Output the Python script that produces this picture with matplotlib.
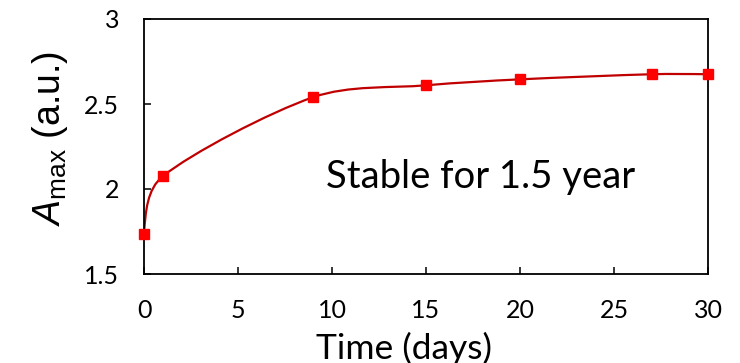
import matplotlib
matplotlib.use("Agg")
import matplotlib.pyplot as plt
from matplotlib.path import Path
from matplotlib.patches import PathPatch
import numpy as np

# ---- data ----
days = [0, 1, 9, 15, 20, 27, 30]
amax = [1.735, 2.075, 2.54, 2.61, 2.645, 2.675, 2.675]
x_ticks = [0, 5, 10, 15, 20, 25, 30]
y_ticks = [1.5, 2, 2.5, 3]
y_tick_labels = ["1.5", "2", "2.5", "3"]
annotation = "Stable for 1.5 year"
x_label = "Time (days)"

plt.rcParams["mathtext.fontset"] = "custom"
plt.rcParams["mathtext.rm"] = "Liberation Sans"
plt.rcParams["mathtext.it"] = "Liberation Sans:italic"
plt.rcParams["font.family"] = ["Lato", "DejaVu Sans"]

fig = plt.figure(figsize=(7.40, 3.63), dpi=100)
ax = fig.add_axes([144 / 740, 1 - 274 / 363, 564 / 740, 255 / 363])
ax.set_xlim(0, 30)
ax.set_ylim(1.5, 3)

line_color = "#C00000"
marker_color = "#FF0000"


def smooth_path(ax, xs, ys):
    """Excel-like smoothed line: cubic Bezier through points, computed in display space."""
    pts = ax.transData.transform(np.column_stack([xs, ys]))
    n = len(pts)
    verts = [pts[0]]
    codes = [Path.MOVETO]
    for i in range(n - 1):
        p0 = pts[i]
        p1 = pts[i + 1]
        seg = np.linalg.norm(p1 - p0)
        prev = pts[i - 1] if i > 0 else None
        nxt = pts[i + 2] if i + 2 < n else None
        if prev is not None:
            t = (p1 - prev) / 6.0
            L = np.linalg.norm(t)
            if L > seg / 3:
                t = t / L * seg / 3
            c1 = p0 + t
        else:
            c1 = None
        if nxt is not None:
            t = (nxt - p0) / 6.0
            L = np.linalg.norm(t)
            if L > seg / 3:
                t = t / L * seg / 3
            c2 = p1 - t
        else:
            c2 = None
        if c1 is None:
            c1 = p0 + (c2 - p0) / 2 if c2 is not None else p0 + (p1 - p0) / 3
        if c2 is None:
            c2 = p1 + (c1 - p1) / 2
        verts += [c1, c2, p1]
        codes += [Path.CURVE4] * 3
    inv = ax.transData.inverted()
    return Path(inv.transform(np.array(verts)), codes)


path = smooth_path(ax, days, amax)
ax.add_patch(PathPatch(path, facecolor="none", edgecolor=line_color, lw=1.6, zorder=2))
ax.plot(days, amax, linestyle="none", marker="s", markersize=7.5,
        color=marker_color, zorder=3, clip_on=False)

ax.set_xticks(x_ticks)
ax.set_yticks(y_ticks)
ax.set_yticklabels(y_tick_labels)
ax.tick_params(axis="both", direction="in", length=5, width=1.1, labelsize=18,
               colors="black")
ax.tick_params(axis="x", pad=18)
ax.tick_params(axis="y", pad=18)
for s in ax.spines.values():
    s.set_linewidth(1.3)
    s.set_color("#000000")

ax.set_xlabel(x_label, fontsize=25.5)
ax.xaxis.set_label_coords(0.461, -0.29)
ax.xaxis.label.set_va("center")
ax.set_ylabel(r"$\mathit{A}_{\mathrm{max}}$ (a.u.)", fontsize=27,
              family="Liberation Sans")
ax.yaxis.set_label_coords(-0.167, 0.533)
ax.yaxis.label.set_va("center")

ax.text(0.596, 0.38, annotation, transform=ax.transAxes, fontsize=27.5,
        ha="center", va="center")

fig.savefig("out.png", dpi=100)
